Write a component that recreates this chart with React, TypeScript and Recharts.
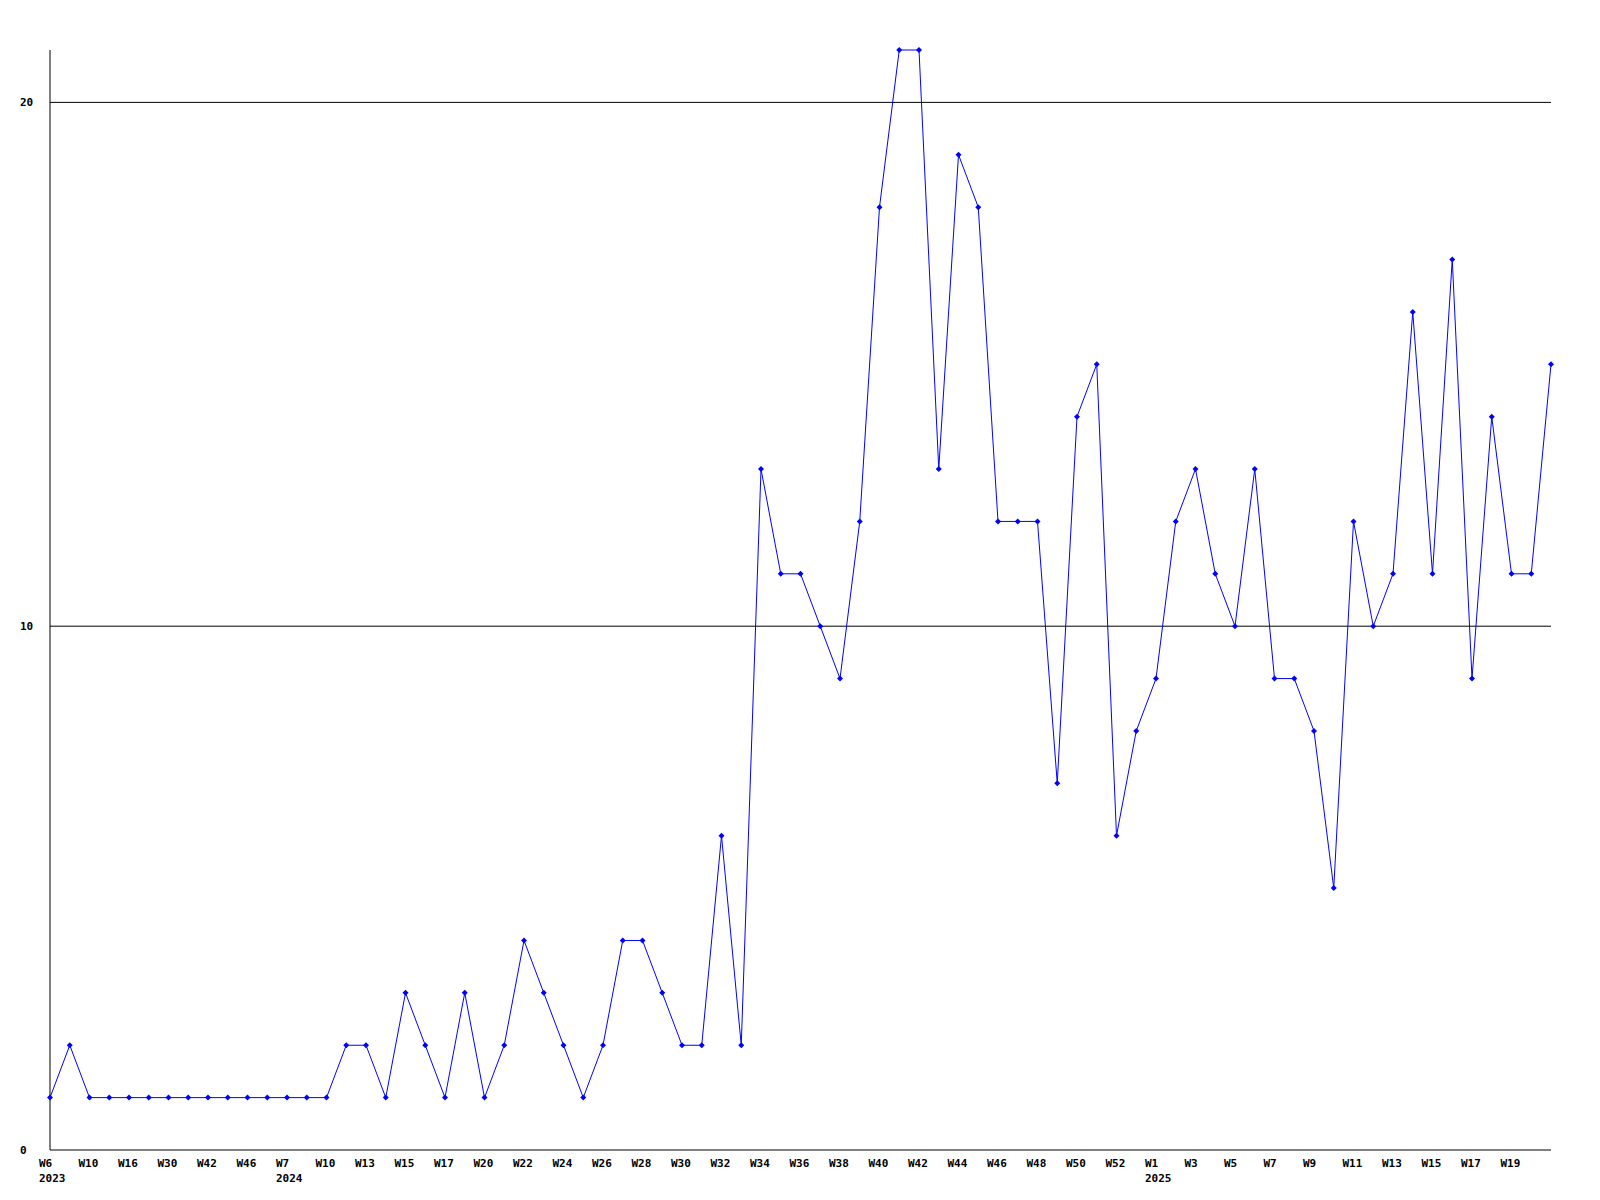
import { LineChart, Line, XAxis, YAxis, ReferenceLine } from "recharts";

// week labels, one per data point
const weeks = [
  "W6", "W8", "W10", "W13", "W16", "W22", "W30", "W37", "W42", "W44", "W46", "W50",
  "W7", "W9", "W10", "W12", "W13", "W14", "W15", "W16", "W17", "W19",
  "W20", "W21", "W22", "W23", "W24", "W25", "W26", "W27", "W28", "W29", "W30", "W31",
  "W32", "W33", "W34", "W35", "W36", "W37", "W38", "W39", "W40", "W41", "W42", "W43",
  "W44", "W45", "W46", "W47", "W48", "W49", "W50", "W51", "W52", "W53",
  "W1", "W2", "W3", "W4", "W5", "W6", "W7", "W8", "W9", "W10", "W11", "W12",
  "W13", "W14", "W15", "W16", "W17", "W18", "W19", "W20", "W21",
];

const counts = [
  1, 2, 1, 1, 1, 1, 1, 1, 1, 1, 1, 1, 1, 1, 1, 2, 2, 1, 3, 2, 1, 3, 1, 2, 4, 3,
  2, 1, 2, 4, 4, 3, 2, 2, 6, 2, 13, 11, 11, 10, 9, 12, 18, 21, 21, 13, 19, 18, 12,
  12, 12, 7, 14, 15, 6, 8, 9, 12, 13, 11, 10, 13, 9, 9, 8, 5, 12, 10, 11, 16, 11,
  17, 9, 14, 11, 11, 15,
];

// where each year begins (index into weeks)
const yearStarts = [0, 12, 56];
const yearNames = ["2023", "2024", "2025"];

const yTicks = [0, 10, 20];
// every other week is labelled, the last point has none
const xTicks = weeks.map((_, i) => i).filter((i) => i % 2 === 0 && i < weeks.length - 1);

const data = counts.map((v, i) => ({ i, v }));

const FONT = "'DejaVu Sans Mono', monospace";

function WeekTick(props: any) {
  const { x, y, payload } = props;
  const idx = payload.value as number;
  const yi = yearStarts.indexOf(idx);
  return (
    <g>
      <text x={x - 11} y={y + 17} fontFamily={FONT} fontSize={11} fontWeight="bold" fill="#000" textAnchor="start">
        {weeks[idx]}
      </text>
      {yi >= 0 && (
        <text x={x - 11} y={y + 32} fontFamily={FONT} fontSize={11} fontWeight="bold" fill="#000" textAnchor="start">
          {yearNames[yi]}
        </text>
      )}
    </g>
  );
}

function ValueTick(props: any) {
  const { x, y, payload } = props;
  return (
    <text x={x - 30} y={y + 4} fontFamily={FONT} fontSize={11} fontWeight="bold" fill="#000" textAnchor="start">
      {payload.value}
    </text>
  );
}

// small plus-ish marker like the original
function Marker(props: any) {
  const { cx, cy, index } = props;
  if (cx == null || cy == null) return <g key={index} />;
  return (
    <g key={index}>
      <path
        d={`M${cx},${cy - 3} L${cx + 3},${cy} L${cx},${cy + 3} L${cx - 3},${cy} Z`}
        fill="#0000ff"
        stroke="none"
      />
      <rect x={cx - 1} y={cy - 1} width={2} height={2} fill="#0000ff" />
    </g>
  );
}

export default function App() {
  return (
    <div style={{ position: "absolute", left: 0, top: 0, width: 1600, height: 1200, background: "#fff" }}>
      <LineChart width={1600} height={1200} data={data} margin={{ top: 50, right: 49, bottom: 0, left: 0 }}>
        <XAxis
          dataKey="i"
          type="number"
          domain={[0, weeks.length - 1]}
          ticks={xTicks}
          interval={0}
          height={50}
          tickSize={0}
          tickMargin={0}
          tickLine={false}
          axisLine={{ stroke: "#000" }}
          tick={<WeekTick />}
        />
        <YAxis
          domain={[0, 21]}
          ticks={yTicks}
          width={50}
          tickSize={0}
          tickMargin={0}
          tickLine={false}
          axisLine={{ stroke: "#000" }}
          tick={<ValueTick />}
        />
        {yTicks.filter((t) => t > 0).map((t) => (
          <ReferenceLine key={t} y={t} stroke="#000" strokeWidth={1} />
        ))}
        <Line
          type="linear"
          dataKey="v"
          stroke="#0000ff"
          strokeWidth={1}
          dot={Marker}
          activeDot={false}
          isAnimationActive={false}
        />
      </LineChart>
    </div>
  );
}
